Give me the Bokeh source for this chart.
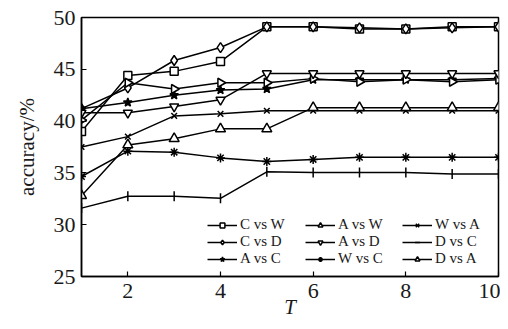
import math
from bokeh.plotting import figure
from bokeh.models import Legend, LegendItem, Range1d, FixedTicker
from bokeh.embed import file_html
from bokeh.resources import INLINE

T = [1, 2, 3, 4, 5, 6, 7, 8, 9, 10]
c_vs_w = [39.0, 44.4, 44.8, 45.75, 49.1, 49.1, 48.9, 48.9, 49.1, 49.1]
c_vs_d = [41.2, 43.2, 45.85, 47.1, 49.1, 49.1, 49.0, 48.9, 49.0, 49.1]
a_vs_c = [41.2, 41.8, 42.5, 43.0, 43.1, 44.0, 44.0, 44.0, 44.0, 44.1]
a_vs_w = [40.1, 43.7, 43.1, 43.7, 43.7, 44.1, 43.8, 44.0, 43.8, 44.0]
a_vs_d = [40.8, 40.8, 41.4, 42.05, 44.6, 44.6, 44.6, 44.6, 44.6, 44.6]
w_vs_c = [34.65, 37.1, 37.0, 36.45, 36.1, 36.3, 36.5, 36.5, 36.5, 36.5]
w_vs_a = [37.5, 38.5, 40.5, 40.7, 41.0, 41.0, 41.0, 41.0, 41.0, 41.0]
d_vs_c = [31.6, 32.75, 32.75, 32.55, 35.1, 35.05, 35.05, 35.05, 34.9, 34.9]
d_vs_a = [32.8, 37.7, 38.3, 39.25, 39.25, 41.3, 41.3, 41.3, 41.3, 41.3]

x_ticks = [2, 4, 6, 8, 10]
y_ticks = [25, 30, 35, 40, 45, 50]

FONT = "Liberation Serif"
TICKFONT = "Times New Roman"

p = figure(width=500, height=321, output_backend="svg", toolbar_location=None,
           x_range=Range1d(1, 10), y_range=Range1d(25, 50),
           min_border_left=81, min_border_right=2, min_border_top=17, min_border_bottom=45)
p.xgrid.visible = False
p.ygrid.visible = False
p.outline_line_color = "black"
p.outline_line_width = 1.5
p.background_fill_color = "white"
p.border_fill_color = "white"

for ax in (p.xaxis[0], p.yaxis[0]):
    ax.major_tick_in = 5
    ax.major_tick_out = 0
    ax.minor_tick_in = 0
    ax.minor_tick_out = 0
    ax.axis_line_width = 1.5
    ax.major_tick_line_width = 1.2
    ax.major_label_text_font = TICKFONT
    ax.major_label_text_font_size = "22px"
    ax.major_label_text_font_style = "normal"
    ax.major_label_text_color = "#1a1a1a"
    ax.axis_label_text_font = FONT
    ax.axis_label_text_font_size = "21px"
    ax.axis_label_text_font_style = "normal"
    ax.axis_label_text_color = "#1a1a1a"

p.xaxis[0].major_label_standoff = 7
p.yaxis[0].major_label_standoff = 6
p.xaxis[0].ticker = FixedTicker(ticks=x_ticks)
p.yaxis[0].ticker = FixedTicker(ticks=y_ticks)
p.xaxis[0].axis_label = "T"
p.xaxis[0].axis_label_text_font_style = "italic"
p.xaxis[0].axis_label_standoff = -6
p.yaxis[0].axis_label = "accuracy/%"
p.yaxis[0].axis_label_standoff = 12

series = [
    ("C vs W", c_vs_w, "square", 0, "white", 8),
    ("C vs D", c_vs_d, "diamond", 0, "white", 10),
    ("A vs C", a_vs_c, "star", 0, "black", 9),
    ("A vs W", a_vs_w, "triangle", -math.pi / 2, "white", 9),
    ("A vs D", a_vs_d, "inverted_triangle", 0, "white", 9),
    ("W vs C", w_vs_c, "asterisk", 0, "black", 9),
    ("W vs A", w_vs_a, "x", 0, "white", 8),
    ("D vs C", d_vs_c, "dash", math.pi / 2, "white", 10),
    ("D vs A", d_vs_a, "triangle", 0, "white", 10),
]

items = {}
for name, ys, marker, ang, fill, size in series:
    r1 = p.line(T, ys, line_color="black", line_width=1.5)
    r2 = p.scatter(T, ys, marker=marker, angle=ang, size=size, line_color="black",
                   fill_color=fill, line_width=1.5)
    items[name] = [r1, r2]

cols = [["C vs W", "C vs D", "A vs C"],
        ["A vs W", "A vs D", "W vs C"],
        ["W vs A", "D vs C", "D vs A"]]
xpos = [126, 224, 321]
for xs, names in zip(xpos, cols):
    leg = Legend(items=[LegendItem(label=n, renderers=items[n]) for n in names],
                 location=(xs, 9), orientation="vertical",
                 padding=0, spacing=0, margin=0, label_standoff=3,
                 glyph_width=30, glyph_height=12, label_height=12,
                 label_text_font=FONT, label_text_font_size="15px",
                 label_text_color="#1a1a1a",
                 background_fill_alpha=0, border_line_alpha=0)
    p.add_layout(leg, "center")

open("out.html", "w").write(file_html(p, INLINE))
